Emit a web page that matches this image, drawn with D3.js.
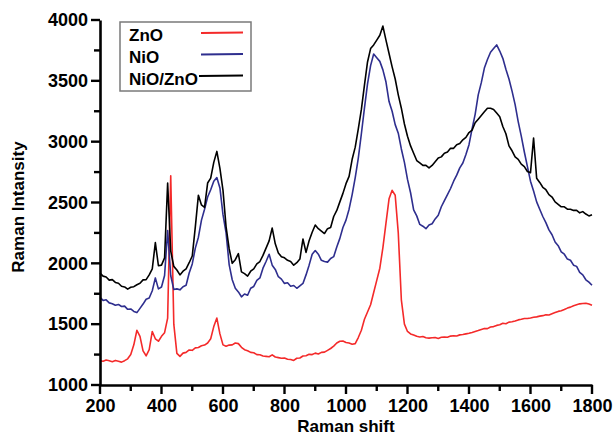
<!DOCTYPE html>
<html lang="en">
<head>
<meta charset="UTF-8">
<title>Raman spectra</title>
<style>
  body { margin: 0; background: #fff; }
  text { font-family: "Liberation Sans", Arial, sans-serif; font-weight: bold; }
</style>
</head>
<body>
<script src="https://d3js.org/d3.v7.min.js"></script>
<script>
// Raman shift sample positions (cm-1), one every 10
var shift = d3.range(200, 1801, 10);

var znO = [
  1200, 1195, 1205, 1200, 1192, 1202, 1195, 1188, 1200, 1215,   // 200-290
  1250, 1330, 1450, 1400, 1280, 1240, 1290, 1440, 1380, 1360,   // 300-390
  1400, 1430, 1550, 2720, 1500, 1260, 1235, 1262, 1268, 1288,   // 400-490
  1285, 1305, 1308, 1322, 1328, 1345, 1380, 1480, 1550, 1420,   // 500-590
  1330, 1318, 1328, 1330, 1345, 1340, 1310, 1290, 1282, 1268,   // 600-690
  1265, 1250, 1248, 1238, 1235, 1232, 1248, 1230, 1225, 1220,   // 700-790
  1222, 1212, 1210, 1202, 1220, 1222, 1238, 1240, 1252, 1250,   // 800-890
  1262, 1255, 1268, 1270, 1285, 1300, 1320, 1345, 1360, 1362,   // 900-990
  1350, 1345, 1335, 1340, 1390, 1450, 1540, 1600, 1660, 1760,   // 1000-1090
  1860, 1960, 2130, 2330, 2530, 2600, 2560, 2250, 1700, 1500,   // 1100-1190
  1440, 1420, 1410, 1400, 1395, 1398, 1388, 1385, 1388, 1390,   // 1200-1290
  1383, 1392, 1395, 1393, 1402, 1405, 1403, 1412, 1415, 1420,   // 1300-1390
  1425, 1432, 1440, 1448, 1457, 1465, 1463, 1477, 1480, 1490,   // 1400-1490
  1495, 1507, 1503, 1517, 1520, 1526, 1535, 1540, 1547, 1546,   // 1500-1590
  1550, 1557, 1560, 1566, 1570, 1577, 1575, 1585, 1595, 1605,   // 1600-1690
  1610, 1620, 1632, 1640, 1652, 1660, 1667, 1670, 1672, 1665,   // 1700-1790
  1655
];

var niO = [
  1720, 1695, 1700, 1675, 1668, 1655, 1662, 1645, 1648, 1622,
  1625, 1605, 1595, 1630, 1665, 1705, 1715, 1775, 1880, 1790,
  1805, 1900, 2270, 1900, 1785, 1790, 1782, 1808, 1820, 1920,
  1995, 2125, 2215, 2355, 2445, 2545, 2605, 2675, 2705, 2620,
  2400, 2250, 1990, 1865, 1795, 1765, 1725, 1748, 1738, 1795,
  1810, 1860, 1880, 1960, 2015, 2075, 1985, 1950, 1890, 1870,
  1835, 1840, 1812, 1818, 1795, 1815, 1835, 1905, 1985, 2075,
  2105, 2075, 2025, 2015, 2010, 2040, 2055, 2135, 2205, 2295,
  2355, 2445, 2565, 2705, 2865, 3065, 3275, 3475, 3625, 3720,
  3690, 3660, 3590, 3490, 3330, 3250, 3140, 3070, 2940, 2830,
  2690, 2580, 2440, 2390, 2320, 2305, 2285, 2315, 2325, 2365,
  2395, 2465, 2515, 2565, 2615, 2675, 2725, 2785, 2825, 2895,
  2975, 3105, 3225, 3385, 3485, 3605, 3675, 3735, 3765, 3795,
  3745, 3685, 3595, 3515, 3415, 3305, 3165, 3045, 2915, 2795,
  2675, 2595, 2505, 2445, 2385, 2335, 2275, 2235, 2175, 2145,
  2095, 2075, 2035, 2025, 1985, 1975, 1925, 1905, 1865, 1845,
  1820
];

var niOZnO = [
  1920, 1895, 1888, 1862, 1866, 1843, 1836, 1812, 1806, 1788,
  1803, 1808, 1824, 1836, 1864, 1866, 1905, 1955, 2170, 1980,
  1985, 2045, 2660, 2100, 1975, 1945, 1905, 1935, 1955, 2005,
  2060, 2300, 2560, 2480, 2460, 2660, 2700, 2830, 2920, 2780,
  2600, 2300, 2120, 2000, 2030, 2080, 1930, 1915, 1895, 1935,
  1955, 1995, 2015, 2065, 2125, 2185, 2290, 2160, 2085, 2055,
  2045, 2025, 2015, 1985, 2005, 2035, 2200, 2090, 2185, 2255,
  2315, 2285, 2265, 2245, 2285, 2295, 2385, 2435, 2505, 2575,
  2655, 2715, 2855, 2955, 3105, 3265, 3465, 3655, 3765, 3795,
  3835, 3875, 3950, 3835, 3725, 3615, 3515, 3385, 3275, 3145,
  3045, 2965, 2905, 2845, 2825, 2805, 2805, 2785, 2805, 2835,
  2865, 2875, 2905, 2915, 2945, 2945, 2975, 2985, 3015, 3035,
  3075, 3095, 3155, 3185, 3215, 3245, 3275, 3275, 3265, 3235,
  3205, 3125, 3065, 2965, 2925, 2875, 2855, 2815, 2795, 2755,
  2745, 3030, 2700, 2665, 2625, 2605, 2565, 2545, 2505, 2485,
  2465, 2465, 2445, 2445, 2435, 2435, 2415, 2425, 2405, 2390,
  2400
];

var seriesNames = ["ZnO", "NiO", "NiO/ZnO"];
var seriesColors = ["#f42a2a", "#2e2e8e", "#000000"];
var xTicks = [200, 400, 600, 800, 1000, 1200, 1400, 1600, 1800];
var yTicks = [1000, 1500, 2000, 2500, 3000, 3500, 4000];
var xMinorTicks = [300, 500, 700, 900, 1100, 1300, 1500, 1700];
var yMinorTicks = [1250, 1750, 2250, 2750, 3250, 3750];

var width = 613, height = 438;
var margin = { left: 100, right: 21, top: 20, bottom: 53 };
var baseY = height - margin.bottom;

var svg = d3.select('body').append('svg')
  .attr('width', width).attr('height', height);

var x = d3.scaleLinear().domain([200, 1800]).range([margin.left, width - margin.right]);
var y = d3.scaleLinear().domain([1000, 4000]).range([baseY, margin.top]);

// curves
var allSeries = [znO, niO, niOZnO];
var line = d3.line()
  .x(function(d, i) { return x(shift[i]); })
  .y(function(d) { return y(d); });

svg.selectAll('.curve')
  .data(allSeries)
  .enter()
  .append('path')
  .attr('class', 'curve')
  .attr('d', line)
  .attr('fill', 'none')
  .attr('stroke', function(d, i) { return seriesColors[i]; })
  .attr('stroke-width', 1.6)
  .attr('stroke-linejoin', 'round');

// axes: labels from d3 axis, tick marks drawn as plain lines
svg.append('g')
  .attr('transform', 'translate(0,' + baseY + ')')
  .call(d3.axisBottom(x).tickValues(xTicks).tickSize(0).tickSizeOuter(0).tickPadding(14).tickFormat(d3.format('d')));

svg.append('g')
  .attr('transform', 'translate(' + margin.left + ',0)')
  .call(d3.axisLeft(y).tickValues(yTicks).tickSize(0).tickSizeOuter(0).tickPadding(12).tickFormat(d3.format('d')));

svg.selectAll('.domain').attr('stroke', '#000').attr('stroke-width', 2.6);
svg.selectAll('.tick text').attr('font-size', 18).attr('fill', '#000')
  .style('font-family', '"Liberation Sans", Arial, sans-serif').style('font-weight', 'bold');

var tickG = svg.append('g').attr('stroke', '#000').attr('stroke-width', 2.4);
tickG.selectAll('.xt')
  .data(xTicks.concat(xMinorTicks))
  .enter().append('line')
  .attr('x1', function(d) { return x(d); })
  .attr('x2', function(d) { return x(d); })
  .attr('y1', baseY)
  .attr('y2', function(d) { return baseY + (d % 200 == 0 ? 9 : 6); });
tickG.selectAll('.yt')
  .data(yTicks.concat(yMinorTicks))
  .enter().append('line')
  .attr('y1', function(d) { return y(d); })
  .attr('y2', function(d) { return y(d); })
  .attr('x1', margin.left)
  .attr('x2', function(d) { return margin.left - (d % 500 == 0 ? 9 : 6); });

// axis titles
svg.append('text')
  .attr('x', 346).attr('y', 432)
  .attr('text-anchor', 'middle')
  .attr('font-size', 17)
  .text('Raman shift');

svg.append('text')
  .attr('transform', 'translate(24,207) rotate(-90)')
  .attr('text-anchor', 'middle')
  .attr('font-size', 17)
  .text('Raman Intansity');

// legend
var legend = svg.append('g');
legend.append('rect')
  .attr('x', 120).attr('y', 22).attr('width', 131).attr('height', 69)
  .attr('fill', '#fff').attr('stroke', '#7a7a7a').attr('stroke-width', 1.5);

var items = legend.selectAll('.item')
  .data(seriesNames)
  .enter()
  .append('g')
  .attr('class', 'item');

items.append('text')
  .attr('x', 129)
  .attr('y', function(d, i) { return 41 + i * 22; })
  .attr('font-size', 17)
  .text(function(d) { return d; });

items.append('line')
  .attr('x1', function(d, i) { return i == 2 ? 199 : 201; })
  .attr('x2', 243)
  .attr('y1', function(d, i) { return 33 + i * 21.5; })
  .attr('y2', function(d, i) { return 33 + i * 21.5 - 0.5; })
  .attr('stroke', function(d, i) { return seriesColors[i]; })
  .attr('stroke-width', 1.8);
</script>
</body>
</html>
